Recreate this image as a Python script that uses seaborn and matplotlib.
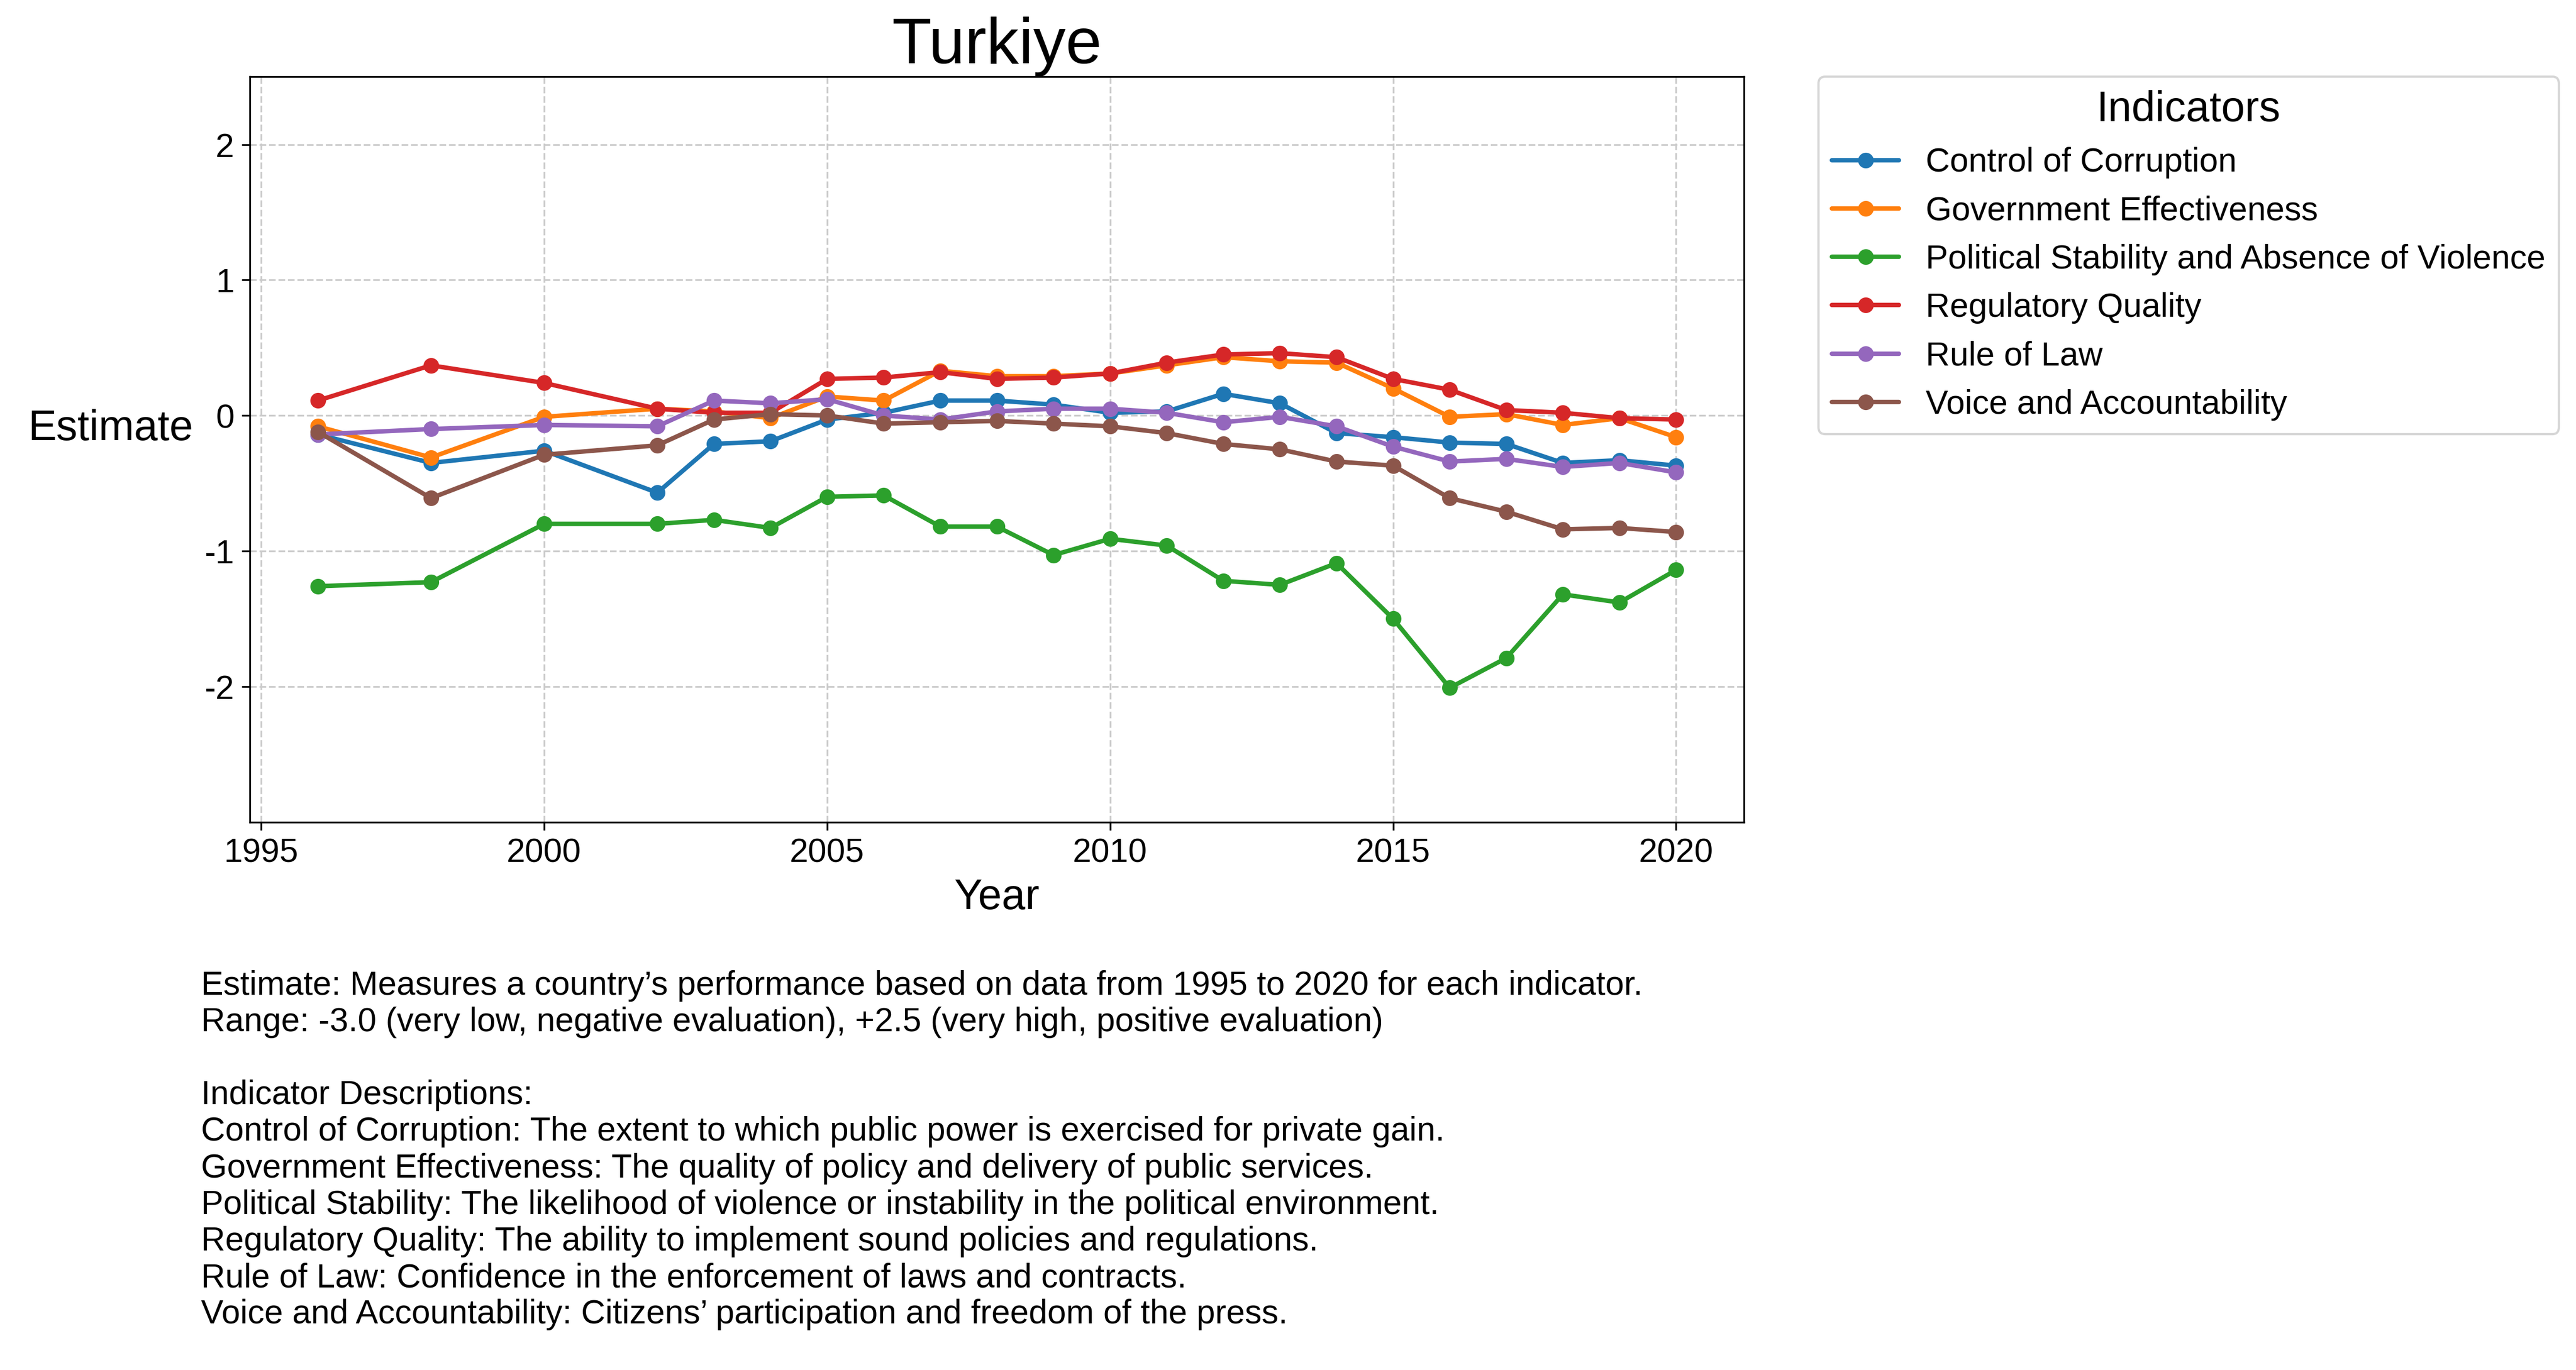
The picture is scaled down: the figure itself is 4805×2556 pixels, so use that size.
import matplotlib
matplotlib.use("Agg")
import matplotlib.pyplot as plt
import pandas as pd
import seaborn as sns

years = [1996, 1998, 2000] + list(range(2002, 2021))
control_corruption = [-0.14, -0.35, -0.26, -0.57, -0.21, -0.19, -0.03, 0.02, 0.11, 0.11, 0.08,
                      0.02, 0.03, 0.16, 0.09, -0.13, -0.16, -0.20, -0.21, -0.35, -0.33, -0.37]
gov_effectiveness = [-0.08, -0.31, -0.01, 0.05, 0.03, -0.02, 0.14, 0.11, 0.33, 0.29, 0.29,
                     0.31, 0.37, 0.43, 0.40, 0.39, 0.20, -0.01, 0.01, -0.07, -0.02, -0.16]
political_stability = [-1.26, -1.23, -0.80, -0.80, -0.77, -0.83, -0.60, -0.59, -0.82, -0.82, -1.03,
                       -0.91, -0.96, -1.22, -1.25, -1.09, -1.50, -2.01, -1.79, -1.32, -1.38, -1.14]
regulatory_quality = [0.11, 0.37, 0.24, 0.05, 0.02, 0.02, 0.27, 0.28, 0.32, 0.27, 0.28,
                      0.31, 0.39, 0.45, 0.46, 0.43, 0.27, 0.19, 0.04, 0.02, -0.02, -0.03]
rule_of_law = [-0.14, -0.10, -0.07, -0.08, 0.11, 0.09, 0.12, 0.00, -0.03, 0.03, 0.05,
               0.05, 0.02, -0.05, -0.01, -0.08, -0.23, -0.34, -0.32, -0.38, -0.35, -0.42]
voice_accountability = [-0.12, -0.61, -0.29, -0.22, -0.03, 0.01, 0.00, -0.06, -0.05, -0.04, -0.06,
                        -0.08, -0.13, -0.21, -0.25, -0.34, -0.37, -0.61, -0.71, -0.84, -0.83, -0.86]

series = {
    "Control of Corruption": control_corruption,
    "Government Effectiveness": gov_effectiveness,
    "Political Stability and Absence of Violence": political_stability,
    "Regulatory Quality": regulatory_quality,
    "Rule of Law": rule_of_law,
    "Voice and Accountability": voice_accountability,
}
rows = []
for name, vals in series.items():
    for y, v in zip(years, vals):
        rows.append({"Year": y, "Estimate": v, "Indicator": name})
df = pd.DataFrame(rows)

sns.set_style("ticks")
plt.rcParams['font.family'] = ['Liberation Sans', 'DejaVu Sans']
plt.rcParams['axes.unicode_minus'] = False
plt.rcParams['text.color'] = 'black'
plt.rcParams['axes.labelcolor'] = 'black'
plt.rcParams['xtick.color'] = 'black'
plt.rcParams['ytick.color'] = 'black'

fig = plt.figure(figsize=(16.017, 8.52), dpi=300)
ax = fig.add_axes([0.097, 0.40, 0.580, 0.544])
sns.lineplot(data=df, x="Year", y="Estimate", hue="Indicator", marker="o",
             markersize=7, markeredgewidth=0, linewidth=2, palette="tab10", ax=ax)
ax.set_ylim(-3, 2.5)
ax.set_yticks([-2, -1, 0, 1, 2])
ax.set_xticks([1995, 2000, 2005, 2010, 2015, 2020])
ax.tick_params(labelsize=15)
ax.grid(True, linestyle="--", color="#cccccc", linewidth=0.8)
ax.set_title("Turkiye", fontsize=29)
ax.set_xlabel("Year", fontsize=19)
ax.set_ylabel("Estimate", fontsize=19, rotation=0, labelpad=42)
for s in ax.spines.values():
    s.set_color("black")
ax.legend(title="Indicators", loc="upper left", bbox_to_anchor=(1.05, 1.0),
          fontsize=15, title_fontsize=19, borderaxespad=0)

note = ("Estimate: Measures a country\u2019s performance based on data from 1995 to 2020 for each indicator.\n"
        "Range: -3.0 (very low, negative evaluation), +2.5 (very high, positive evaluation)\n\n"
        "Indicator Descriptions:\n"
        "Control of Corruption: The extent to which public power is exercised for private gain.\n"
        "Government Effectiveness: The quality of policy and delivery of public services.\n"
        "Political Stability: The likelihood of violence or instability in the political environment.\n"
        "Regulatory Quality: The ability to implement sound policies and regulations.\n"
        "Rule of Law: Confidence in the enforcement of laws and contracts.\n"
        "Voice and Accountability: Citizens\u2019 participation and freedom of the press.")
fig.text(0.078, 0.292, note, fontsize=15, va="top", ha="left", linespacing=1.2)

fig.savefig("out.png", dpi=300)
